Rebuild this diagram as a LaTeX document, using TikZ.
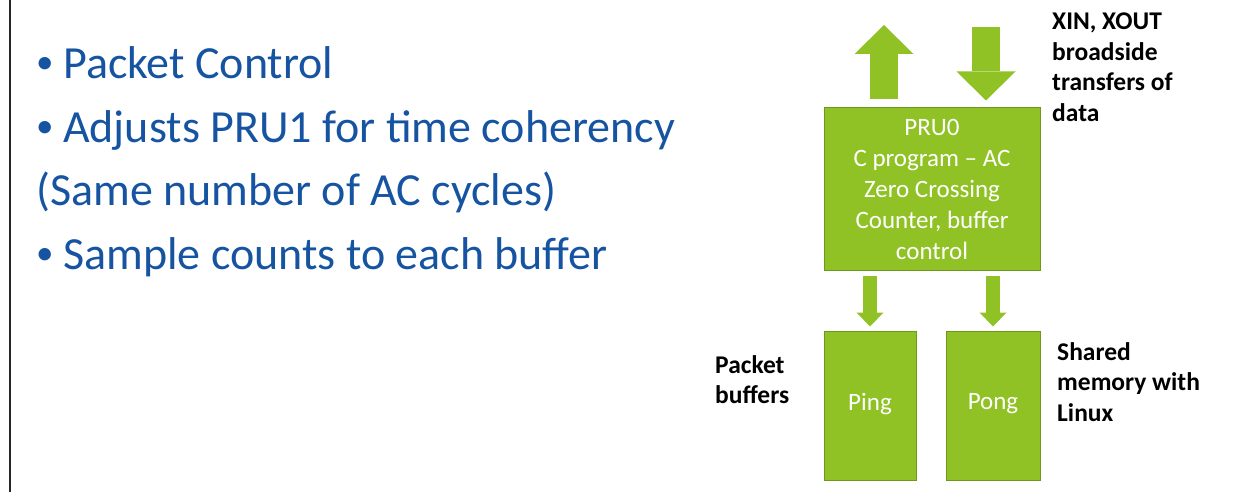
\documentclass[tikz,border=0pt]{standalone}
\usepackage{fontspec}
\setmainfont{Carlito}
\usetikzlibrary{arrows.meta}

\definecolor{prugreen}{RGB}{144,194,38}
\definecolor{prugreenline}{RGB}{108,152,30}
\definecolor{slideblue}{RGB}{22,84,162}

\tikzset{
    gbox/.style={draw=prugreenline, fill=prugreen, line width=1pt, inner sep=0pt,
        text=white, align=center, font=\fontsize{25}{31}\selectfont},
    note/.style={anchor=base west, inner sep=0pt, align=left,
        font=\bfseries\fontsize{25.5}{30.5}\selectfont},
    point/.style={anchor=base west, inner sep=0pt, text=slideblue,
        font=\fontsize{46}{55}\selectfont},
    bigarrow/.style={prugreen, line width=28pt,
        -{Triangle[width=59pt, length=29pt, line width=0pt]}},
    smallarrow/.style={prugreen, line width=14pt,
        -{Triangle[width=27pt, length=14pt, line width=0pt]}},
}
\newcommand{\bul}{\makebox[27pt][l]{\fontsize{35}{35}\selectfont\raisebox{5pt}{\textbullet}}}

\begin{document}
\begin{tikzpicture}[x=1pt, y=-1pt]
        \useasboundingbox (0,0) rectangle (1254,492);
        \draw[line width=1.5pt, black!85] (10,0) -- (10,492);

        % bullet points
        \foreach \y/\t [count=\i] in {79/{\bul Packet Control}, 142.5/{\bul Adjusts PRU1 for time coherency},
                206/{(Same number of AC cycles)}, 269.5/{\bul Sample counts to each buffer}}
            \node[point] (point\i) at (36,\y) {\t};

        % blocks
        \node[gbox, minimum width=216, minimum height=162] (pru) at (932,189)
            {PRU0\\C program -- AC\\Zero Crossing\\Counter, buffer\\control};
        \node[gbox, minimum width=92, minimum height=149] (ping) at (870,405.5) {\raisebox{8pt}{Ping}};
        \node[gbox, minimum width=94, minimum height=149] (pong) at (993,405.5) {\raisebox{8pt}{Pong}};

        % broadside transfers
        \coordinate (xout) at (884,25);
        \coordinate (xin) at (986,27);
        \draw[bigarrow, shorten <=8pt] (pru.north -| xout) -- (xout);
        \draw[bigarrow, shorten >=7pt] (xin) -- (xin |- pru.north);

        \draw[smallarrow, shorten <=5pt, shorten >=4pt] (pru.south -| ping) -- (ping.north);
        \draw[smallarrow, shorten <=5pt, shorten >=4pt] (pru.south -| pong) -- (pong.north);

        % base anchor sits on the last line
        \node[note] (xfer) at (1052,121.5) {XIN, XOUT\\broadside\\transfers of\\data};
        \node[note] (bufs) at (715,403.5) {Packet\\buffers};
        \node[note] (shm) at (1057,421) {Shared\\memory with\\Linux};
\end{tikzpicture}
\end{document}
